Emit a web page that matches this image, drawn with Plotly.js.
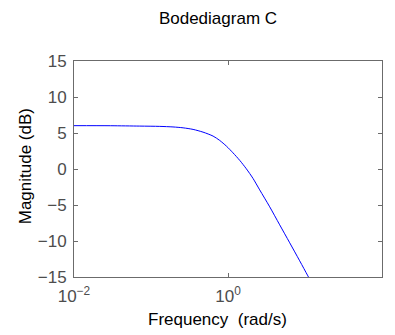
<!DOCTYPE html>
<html><head><meta charset="utf-8">
<script src="https://cdn.plot.ly/plotly-3.0.1.min.js"></script>
<style>html,body{margin:0;padding:0;background:#fff}#c{width:395px;height:335px}</style>
</head><body><div id="c"></div>
<script>
const freq = [0.01, 0.03, 0.0713, 0.130, 0.193, 0.261, 0.352, 0.474, 0.640, 0.780, 0.953, 1.16, 1.42, 1.73, 2.11, 2.58, 3.48, 4.69, 6.33, 8.53, 10.9, 12.5];
const magDb = [6.02, 6.01, 5.96, 5.92, 5.84, 5.72, 5.5, 5.12, 4.57, 3.97, 3.18, 2.25, 1.2, 0.03, -1.3, -2.9, -5.25, -7.75, -10.25, -12.75, -14.85, -16.0];
const xTickVals = [0.01, 1, 100];
const xTickText = ['10<sup>\u22122</sup>', '10<sup>0</sup>', '10<sup>2</sup>'];
const yTickVals = [-15, -10, -5, 0, 5, 10, 15];
const titleText = 'Bodediagram C';
const xLabel = 'Frequency  (rad/s)';
const yLabel = 'Magnitude (dB)';

const font = 'Liberation Sans, Arial, Helvetica, sans-serif';
const axisCommon = {
  showline: true, linecolor: '#6b6b6b', linewidth: 1, mirror: 'ticks',
  ticks: 'inside', ticklen: 4, tickcolor: '#6b6b6b', tickwidth: 1,
  showgrid: false, zeroline: false,
  tickfont: {family: font, size: 17, color: '#4d4d4d'}
};
Plotly.newPlot('c', [{
  x: freq, y: magDb, type: 'scatter', mode: 'lines',
  line: {color: '#0000ff', width: 1, shape: 'spline', smoothing: 0.8}, hoverinfo: 'skip'
}], {
  width: 395, height: 335,
  margin: {l: 74, r: 13, t: 61, b: 58},
  paper_bgcolor: '#fff', plot_bgcolor: '#fff',
  showlegend: false,
  title: {text: titleText, font: {family: font, size: 17, color: '#000'},
          xref: 'paper', x: 0.4675, xanchor: 'center', yref: 'container', y: 1 - 18/335, yanchor: 'middle'},
  xaxis: Object.assign({}, axisCommon, {
    type: 'log', range: [-2, 2], tickvals: xTickVals, ticktext: xTickText, ticklabelstandoff: 4
  }),
  yaxis: Object.assign({}, axisCommon, {
    range: [-15, 15], tickvals: yTickVals, ticklabelstandoff: 3
  }),
  annotations: [
    {text: xLabel, xref: 'paper', yref: 'paper', x: (217.5 - 74) / 308, y: -(318.5 - 276.5) / 215.5,
     xanchor: 'center', yanchor: 'middle', showarrow: false, font: {family: font, size: 17, color: '#000'}},
    {text: yLabel, xref: 'paper', yref: 'paper', x: (25 - 74) / 308, y: (276.5 - 166) / 215.5,
     xanchor: 'center', yanchor: 'middle', textangle: -90, showarrow: false, font: {family: font, size: 17, color: '#000'}}
  ]
}, {staticPlot: true, displayModeBar: false});
</script></body></html>
